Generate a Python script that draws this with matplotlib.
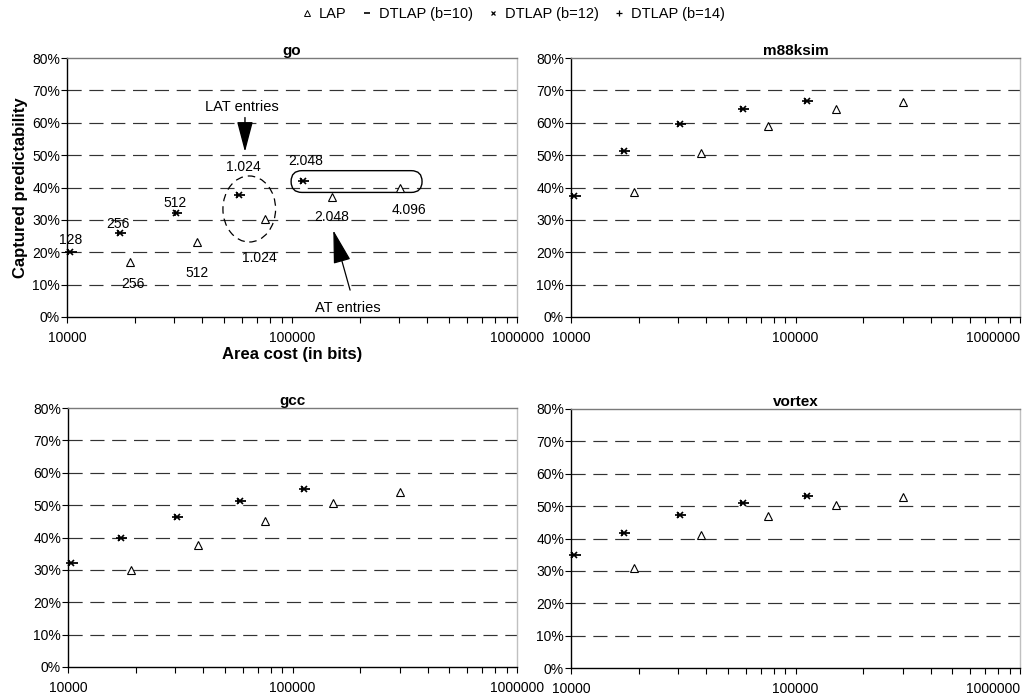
import matplotlib
matplotlib.use("Agg")
import matplotlib.pyplot as plt
from matplotlib.lines import Line2D
from matplotlib.patches import Ellipse, FancyBboxPatch
from matplotlib.ticker import FixedLocator, LogLocator, NullFormatter, FuncFormatter

plt.rcParams['font.family'] = ['Liberation Sans', 'DejaVu Sans']

# Area cost (bits) for each configuration
lap_bits = [19000, 37800, 75500, 151000, 302000]
dtlap_b10_bits = [10600, 17500, 31300, 59300, 114500]
dtlap_b12_bits = [10350, 17150, 30650, 58100, 112200]
dtlap_b14_bits = [10150, 16850, 30100, 57100, 110200]

benchmarks = ["go", "m88ksim", "gcc", "vortex"]

# Captured predictability (%)
go_lap = [17.1, 23.1, 30.3, 37.0, 39.7]
go_dtlap = [20.1, 25.8, 32.1, 37.8, 42.1]
m88ksim_lap = [38.7, 50.8, 59.0, 64.4, 66.5]
m88ksim_dtlap = [37.4, 51.2, 59.6, 64.3, 66.8]
gcc_lap = [30.0, 37.8, 45.2, 50.8, 54.0]
gcc_dtlap = [32.0, 39.9, 46.2, 51.4, 54.9]
vortex_lap = [30.9, 41.2, 46.9, 50.3, 52.7]
vortex_dtlap = [35.0, 41.7, 47.2, 51.0, 53.2]

lap_values = [go_lap, m88ksim_lap, gcc_lap, vortex_lap]
dtlap_values = [go_dtlap, m88ksim_dtlap, gcc_dtlap, vortex_dtlap]

y_ticks = [0, 10, 20, 30, 40, 50, 60, 70, 80]
x_ticks = [10000, 100000, 1000000]

fig = plt.figure(figsize=(10.26, 6.95), dpi=100)

W, H = 1026.0, 695.0
boxes = [(67, 58, 517, 317), (571, 58, 1020, 317),
         (68, 408, 517, 667), (571, 409, 1020, 668)]

axes = []
for (l, t, r, b) in boxes:
    ax = fig.add_axes([l / W, 1 - b / H, (r - l) / W, (b - t) / H])
    axes.append(ax)

grid_color = "#333333"
for i, (ax, name, lap, dt) in enumerate(zip(axes, benchmarks, lap_values, dtlap_values)):
    ax.set_xscale("log")
    ax.set_xlim(10000, 1000000)
    ax.set_ylim(0, 80)
    for yv in y_ticks[1:-1]:
        ax.axhline(yv, color=grid_color, lw=0.85, dashes=(12, 6.5), zorder=1)
    ax.plot(lap_bits, lap, linestyle="none", marker="^", ms=5.2, mfc="white",
            mec="black", mew=0.8, zorder=3, clip_on=False)
    ax.plot(dtlap_b10_bits, dt, linestyle="none", marker="_", ms=6,
            mec="black", mew=1.3, zorder=3, clip_on=False)
    ax.plot(dtlap_b12_bits, dt, linestyle="none", marker="x", ms=4,
            mec="black", mew=1.2, zorder=3, clip_on=False)
    ax.plot(dtlap_b14_bits, dt, linestyle="none", marker="+", ms=5,
            mec="black", mew=1.2, zorder=3, clip_on=False)

    ax.set_title(name, fontsize=11, fontweight="bold", pad=2)
    ax.yaxis.set_major_locator(FixedLocator(y_ticks))
    ax.yaxis.set_major_formatter(FuncFormatter(lambda v, p: f"{v:.0f}%"))
    ax.xaxis.set_major_locator(FixedLocator(x_ticks))
    ax.xaxis.set_major_formatter(FuncFormatter(lambda v, p: f"{v:.0f}"))
    ax.xaxis.set_minor_locator(LogLocator(base=10, subs=range(2, 10)))
    ax.xaxis.set_minor_formatter(NullFormatter())
    ax.tick_params(axis="both", which="major", direction="out", length=4,
                   width=0.8, labelsize=10, colors="black")
    ax.tick_params(axis="x", which="minor", direction="out", length=4, width=0.8)
    ax.tick_params(axis="x", pad=6)
    ax.tick_params(axis="y", pad=1)
    ax.spines["left"].set_color("black")
    ax.spines["bottom"].set_color("black")
    ax.spines["top"].set_color("#7a7a7a")
    ax.spines["right"].set_color("#c0c0c0")
    for s in ax.spines.values():
        s.set_linewidth(1.0)
    if i in (1, 3):
        fig.canvas.draw()
        ax.get_xticklabels()[-1].set_horizontalalignment("right")

ax0 = axes[0]
ax0.set_ylabel("Captured predictability", fontsize=12, fontweight="bold", labelpad=3)
ax0.set_xlabel("Area cost (in bits)", fontsize=12, fontweight="bold", labelpad=3)
ax0.xaxis.set_label_coords(0.5, -0.115)

# Entry-count labels on the go panel
lab_kw = dict(fontsize=10, ha="center", va="center", zorder=4, clip_on=False)
for txt, xv, yv in [("128", 10340, 23.7), ("256", 16850, 28.6), ("512", 30100, 35.3),
                    ("1.024", 60760, 46.4), ("2.048", 115300, 48.1)]:
    ax0.text(xv, yv, txt, **lab_kw)
for txt, xv, yv in [("256", 19580, 10.2), ("512", 37940, 13.5), ("1.024", 71550, 18.3),
                    ("2.048", 150000, 31.0), ("4.096", 332000, 33.0)]:
    ax0.text(xv, yv, txt, **lab_kw)

ax0.text(59700, 64.9, "LAT entries", fontsize=10.5, ha="center", va="center")
ax0.annotate("", xy=(61800, 51.0), xytext=(61800, 61.6),
             arrowprops=dict(arrowstyle="-|>,head_length=1.9,head_width=0.5",
                             mutation_scale=10, color="black", lw=1.0,
                             shrinkA=0, shrinkB=0))
ax0.text(176900, 2.9, "AT entries", fontsize=10.5, ha="center", va="center")
ax0.annotate("", xy=(152600, 26.8), xytext=(181200, 8.3),
             arrowprops=dict(arrowstyle="-|>,head_length=2.1,head_width=0.55",
                             mutation_scale=10, color="black", lw=0.9,
                             shrinkA=0, shrinkB=0))

ax0.add_patch(Ellipse((0.405, 0.417), 0.117, 0.255, transform=ax0.transAxes,
                      fill=False, ec="black", lw=0.9, ls=(0, (6, 4)), zorder=2))
ax0.add_patch(FancyBboxPatch((0.498, 0.481), 0.291, 0.084,
                             boxstyle="round,pad=0,rounding_size=0.024",
                             mutation_aspect=450 / 259, transform=ax0.transAxes,
                             fill=False, ec="black", lw=1.0, zorder=2))

handles = [
    Line2D([], [], linestyle="none", marker="^", ms=4, mfc="white", mec="black", mew=0.7),
    Line2D([], [], linestyle="none", marker="_", ms=5, mec="black", mew=1.2),
    Line2D([], [], linestyle="none", marker="x", ms=3.5, mec="black", mew=0.9),
    Line2D([], [], linestyle="none", marker="+", ms=4.5, mec="black", mew=0.9),
]
labels = ["LAP", "DTLAP (b=10)", "DTLAP (b=12)", "DTLAP (b=14)"]
fig.legend(handles, labels, loc="center", bbox_to_anchor=(513 / W, 1 - 14 / H),
           ncol=4, frameon=False, fontsize=10.5, handlelength=0.8, handletextpad=0.4,
           columnspacing=1.0)

fig.savefig("out.png", dpi=100)
